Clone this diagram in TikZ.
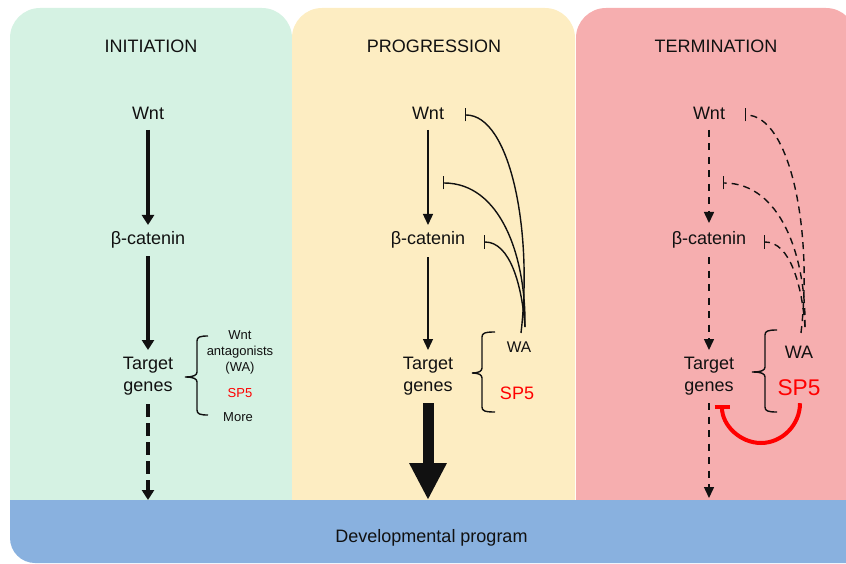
\documentclass[tikz,border=0pt]{standalone}
\usepackage{fontspec}
\setmainfont{Liberation Sans}
\usetikzlibrary{arrows.meta}
\definecolor{gfill}{HTML}{D5F2E3}
\definecolor{yfill}{HTML}{FDEDC2}
\definecolor{rfill}{HTML}{F6AEAF}
\definecolor{bfill}{HTML}{89B1DF}
\definecolor{spred}{HTML}{FF0000}
\definecolor{ink}{HTML}{111111}
\newcommand\drawbrace[6]{% xe xv xt ytop ymid ybot
  \draw[line width=1.4pt, ink] (#1,#4) .. controls (#2+3,#4) and (#2,#4+1) .. (#2,#4+5)
    -- (#2,#5-5) .. controls (#2,#5-2) and (#2-3,#5) .. (#3,#5)
    .. controls (#2-3,#5) and (#2,#5+2) .. (#2,#5+5)
    -- (#2,#6-5) .. controls (#2,#6-1) and (#2+3,#6) .. (#1,#6);}
\begin{document}
\begin{tikzpicture}[x=1pt,y=-1pt,
  lbl/.style={font=\fontsize{18}{22}\selectfont, text=ink, inner sep=0pt, outer sep=0pt},
  one/.style={lbl, text height=13pt, text depth=4pt, anchor=base},
  two/.style={lbl, align=center, anchor=north},
  smallt/.style={lbl, font=\fontsize{13}{16}\selectfont},
  thick1/.style={ink, line width=4pt, -{Triangle[width=12pt,length=10pt]}},
  thin2/.style={ink, line width=1.3pt, -{Triangle[width=10pt,length=11pt]}},
  dash3/.style={ink, line width=1.5pt, dash pattern=on 7pt off 6.5pt, -{Triangle[width=10pt,length=11pt]}},
  inh/.style={ink, line width=1.4pt, -{Bar[width=13pt]}},
  inhd/.style={inh, dash pattern=on 7pt off 5pt},
]
\useasboundingbox (0,0) rectangle (846,564);
\clip (0,0) rectangle (846,564);
% panels
\fill[gfill, rounded corners=30pt] (10,8) rectangle (292,530);
\fill[yfill, rounded corners=30pt] (292,8) rectangle (575,530);
\fill[rfill, rounded corners=30pt] (576,8) rectangle (856,530);
\fill[bfill] (10,500) -- (880,500) -- (880,563) -- (35,563)
   .. controls (21.2,563) and (10,551.8) .. (10,538) -- cycle;
\coordinate (bartop) at (431,500);
\node[lbl, anchor=base] (dev) at (431.5,542) {Developmental program};
% titles
\node[lbl, anchor=base] (t1) at (151,53) {INITIATION};
\node[lbl, anchor=base] (t2) at (434,53) {PROGRESSION};
\node[lbl, anchor=base] (t3) at (716,53) {TERMINATION};
% ---------- column 1
\node[one] (wnt1) at (148,120) {Wnt};
\node[one] (bcat1) at (148,244) {β-catenin};
\node[two] (tg1) at (148,357) {Target\\genes};
\draw[thick1, shorten <=6pt, shorten >=6pt] (wnt1) -- (bcat1);
\draw[thick1, shorten <=8pt, shorten >=7pt] (bcat1) -- (tg1);
\draw[thick1, dash pattern=on 13pt off 6pt, shorten <=9pt] (tg1.south) -- (tg1.south |- bartop);
\drawbrace{208}{197}{185}{336}{377}{415}
\node[smallt, align=center, anchor=north] (wa1) at (240,330.7) {Wnt\\antagonists\\(WA)};
\node[smallt, anchor=base, text=spred] (sp51) at (240,397) {SP5};
\node[smallt, anchor=base] (more1) at (238,421) {More};
% ---------- column 2
\node[one] (wnt2) at (428,120) {Wnt};
\node[one] (bcat2) at (428,244) {β-catenin};
\node[two] (tg2) at (428,357) {Target\\genes};
\draw[thin2, shorten <=6pt, shorten >=6pt] (wnt2) -- (bcat2);
\draw[thin2, shorten <=9pt, shorten >=7pt] (bcat2) -- (tg2);
\draw[ink, line width=11pt, -{Triangle[width=35pt,length=37pt]}, shorten <=8pt] (tg2.south) -- (tg2.south |- bartop);
\drawbrace{495}{482}{472}{332}{373}{412}
\node[one, font=\fontsize{15.5}{18}\selectfont] (wa2) at (519,352) {WA};
\node[lbl, anchor=base, text=spred] (sp52) at (517,399) {SP5};
\coordinate (w2bar) at (465,115);
\coordinate (m2bar) at (443,183);
\coordinate (b2bar) at (484,242);
\draw[inh] ([xshift=2pt,yshift=6pt]wa2.north) .. controls (533,230) and (510,115) .. (w2bar);
\draw[inh] ([xshift=6pt,yshift=12pt]wa2.north) .. controls (526,255) and (500,183) .. (m2bar);
\draw[inh] ([xshift=6pt,yshift=12pt]wa2.north) .. controls (522,285) and (510,242) .. (b2bar);
% ---------- column 3
\node[one] (wnt3) at (709,120) {Wnt};
\node[one] (bcat3) at (709,244) {β-catenin};
\node[two] (tg3) at (709,357) {Target\\genes};
\draw[dash3, shorten <=6pt, shorten >=8pt] (wnt3) -- (bcat3);
\draw[dash3, shorten <=9pt, shorten >=7pt] (bcat3) -- (tg3);
\draw[dash3, shorten <=8pt, shorten >=2pt] (tg3.south) -- (tg3.south |- bartop);
\drawbrace{777}{765}{752}{330}{372}{412}
\node[one] (wa3) at (799,358) {WA};
\node[lbl, anchor=base, text=spred, font=\fontsize{22.7}{26}\selectfont] (sp53) at (799,395) {SP5};
\coordinate (w3bar) at (745,115);
\coordinate (m3bar) at (723,183);
\coordinate (b3bar) at (764,242);
\draw[inhd] ([xshift=2pt,yshift=12pt]wa3.north) .. controls (813,230) and (790,115) .. (w3bar);
\draw[inhd] ([xshift=6pt,yshift=18pt]wa3.north) .. controls (806,255) and (780,183) .. (m3bar);
\draw[inhd] ([xshift=6pt,yshift=18pt]wa3.north) .. controls (802,285) and (790,242) .. (b3bar);
\coordinate (t3bar) at (722,405);
\draw[spred, line width=4pt, -{Bar[width=15pt]}] ([xshift=1pt,yshift=-8pt]sp53.south)
   .. controls (800,425) and (782,443) .. (761,443)
   .. controls (740,443) and (722,425) .. (t3bar);
\end{tikzpicture}
\end{document}
